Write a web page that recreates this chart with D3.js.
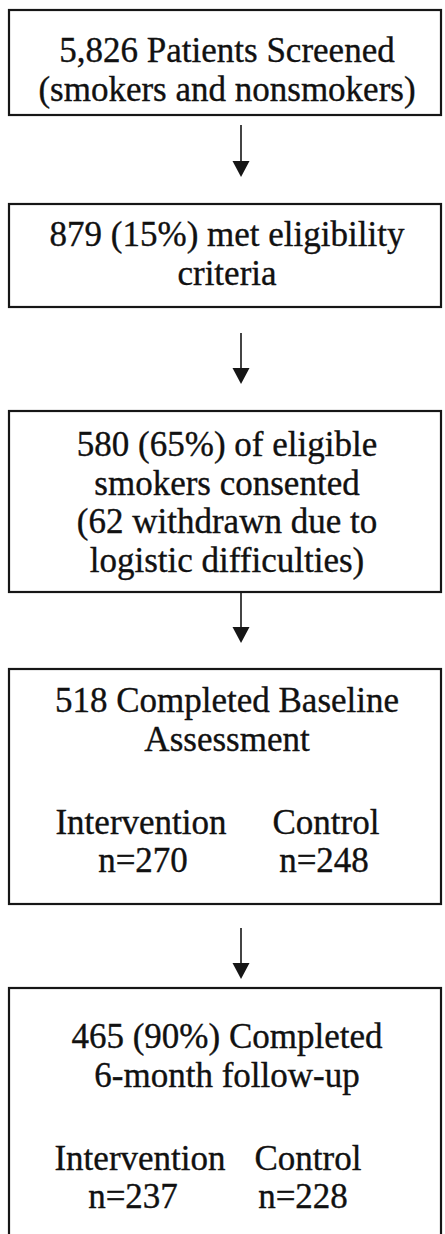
<!DOCTYPE html>
<html>
<head>
<meta charset="utf-8">
<script src="https://cdn.jsdelivr.net/npm/d3@7"></script>
<style>
  body { margin: 0; background: #fff; }
  svg text { font-family: "Liberation Serif", "Times New Roman", serif; fill: #111; stroke: #111; stroke-width: 0.35px; }
</style>
</head>
<body>
<svg id="chart" width="445" height="1234"></svg>
<script>
// flow chart content
const stepTitles = [
    ["5,826 Patients Screened", "(smokers and nonsmokers)"],
    ["879 (15%) met eligibility", "criteria"],
    ["580 (65%) of eligible", "smokers consented", "(62 withdrawn due to", "logistic difficulties)"],
    ["518 Completed Baseline", "Assessment"],
    ["465 (90%) Completed", "6-month follow-up"]
];
const groups = ["Intervention", "Control"];
const groupCounts = [
    null,
    null,
    null,
    [270, 248],
    [237, 228]
];

// layout (pixels)
const boxes = [
    {top: 10, bottom: 115, first: 62},
    {top: 204, bottom: 307, first: 246},
    {top: 411, bottom: 592, first: 456},
    {top: 669, bottom: 904, first: 712},
    {top: 988, bottom: 1260, first: 1048}
];
const arrows = [[125, 177], [333, 384], [593, 643], [928, 979]];
const lineH = 38.5;
const left = 9, right = 441, arrowX = 241;

const svg = d3.select("#chart");
const cx = (left + right) / 2;

// group column positions for the two arm boxes
const colX = [
    {label: [141, 326], n: [143, 324]},
    {label: [140, 308], n: [133, 303]}
];

boxes.forEach((b, i) => {
    const g = svg.append("g").attr("class", "step");
    g.append("rect")
        .attr("x", left).attr("y", b.top)
        .attr("width", right - left).attr("height", b.bottom - b.top)
        .attr("fill", "none").attr("stroke", "#161616").attr("stroke-width", 2.2);

    g.selectAll("text.title").data(stepTitles[i]).join("text")
        .attr("class", "title")
        .attr("x", (d, j) => cx + 2)
        .attr("y", (d, j) => b.first + j * lineH)
        .attr("text-anchor", "middle")
        .attr("font-size", 35)
        .text(d => d);

    if (groupCounts[i]) {
        const c = colX[i - 3];
        const y0 = b.first + 3 * lineH + 6;
        g.selectAll("text.grp").data(groups).join("text")
            .attr("class", "grp")
            .attr("x", (d, j) => c.label[j])
            .attr("y", y0)
            .attr("text-anchor", "middle")
            .attr("font-size", 35)
            .text(d => d);
        g.selectAll("text.cnt").data(groupCounts[i]).join("text")
            .attr("class", "cnt")
            .attr("x", (d, j) => c.n[j])
            .attr("y", y0 + lineH)
            .attr("text-anchor", "middle")
            .attr("font-size", 35)
            .text(d => "n=" + d);
    }
});

// arrows between the steps
arrows.forEach(a => {
    svg.append("line")
        .attr("x1", arrowX).attr("x2", arrowX)
        .attr("y1", a[0]).attr("y2", a[1] - 14)
        .attr("stroke", "#161616").attr("stroke-width", 1.6);
    svg.append("path")
        .attr("d", d3.line()([[arrowX - 8.5, a[1] - 16], [arrowX + 8.5, a[1] - 16], [arrowX, a[1]]]) + "Z")
        .attr("fill", "#161616");
});
</script>
</body>
</html>
